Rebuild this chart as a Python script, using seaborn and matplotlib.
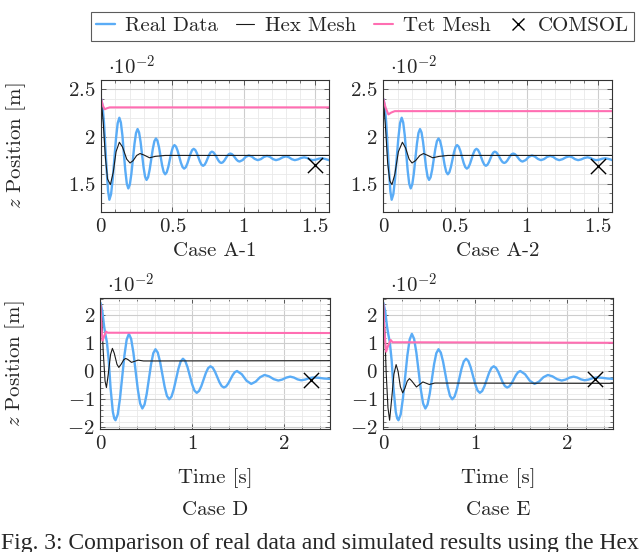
import matplotlib
matplotlib.use("Agg")
import matplotlib.pyplot as plt
from matplotlib.ticker import MultipleLocator, FuncFormatter
from matplotlib.lines import Line2D
import seaborn as sns

# z position values are in units of 1e-2 m

# Real data, cases A-1 / A-2 (same measurement)
real_a_t = [0.0, 0.01, 0.02, 0.03, 0.04, 0.049, 0.058,
            0.0697, 0.0813, 0.093, 0.1047, 0.1163, 0.128,
            0.1385, 0.1495, 0.1595, 0.170, 0.1805, 0.191,
            0.2018, 0.2127, 0.2235, 0.2343, 0.2452, 0.256,
            0.2665, 0.277, 0.2875, 0.298, 0.3085, 0.319,
            0.330, 0.341, 0.352, 0.363, 0.374, 0.385,
            0.3958, 0.4067, 0.4175, 0.4283, 0.4392, 0.45,
            0.4608, 0.4717, 0.4825, 0.4933, 0.5042, 0.515,
            0.5263, 0.5377, 0.549, 0.5603, 0.5717, 0.583,
            0.5942, 0.6053, 0.6165, 0.6277, 0.6388, 0.65,
            0.661, 0.672, 0.683, 0.694, 0.705, 0.716,
            0.7263, 0.7367, 0.747, 0.7573, 0.7677, 0.778,
            0.789, 0.80, 0.811, 0.822, 0.833, 0.844,
            0.8545, 0.865, 0.8755, 0.886, 0.8965, 0.907,
            0.9178, 0.9287, 0.9395, 0.9503, 0.9612, 0.972,
            0.994, 1.015, 1.037, 1.058, 1.079, 1.10, 1.122, 1.143, 1.165, 1.186,
            1.207, 1.228, 1.251, 1.275, 1.298, 1.319, 1.339, 1.36, 1.382, 1.404,
            1.426, 1.446, 1.465, 1.485, 1.507, 1.528, 1.55, 1.575, 1.6]
real_a_z = [2.40, 2.33, 2.15, 1.88, 1.62, 1.42, 1.33,
            1.388, 1.548, 1.765, 1.983, 2.142, 2.20,
            2.15, 2.0125, 1.825, 1.6375, 1.50, 1.45,
            1.492, 1.6075, 1.765, 1.9225, 2.038, 2.08,
            2.044, 1.945, 1.81, 1.675, 1.576, 1.54,
            1.569, 1.65, 1.76, 1.87, 1.951, 1.98,
            1.955, 1.885, 1.79, 1.695, 1.625, 1.60,
            1.621, 1.6775, 1.755, 1.8325, 1.889, 1.91,
            1.893, 1.8475, 1.785, 1.7225, 1.677, 1.66,
            1.674, 1.7125, 1.765, 1.8175, 1.856, 1.87,
            1.858, 1.825, 1.78, 1.735, 1.702, 1.69,
            1.70, 1.7275, 1.765, 1.8025, 1.83, 1.84,
            1.832, 1.81, 1.78, 1.75, 1.728, 1.72,
            1.727, 1.745, 1.77, 1.795, 1.813, 1.82,
            1.814, 1.799, 1.7775, 1.756, 1.741, 1.735,
            1.751, 1.784, 1.80, 1.788, 1.763, 1.75, 1.761, 1.784, 1.795, 1.784,
            1.761, 1.75, 1.76, 1.78, 1.79, 1.78, 1.76, 1.75, 1.758, 1.773,
            1.78, 1.773, 1.758, 1.75, 1.755, 1.765, 1.77, 1.762, 1.75]

# Real data, cases D / E
real_de_t = [0.0, 0.02, 0.04, 0.055, 0.07, 0.09, 0.11, 0.135, 0.15, 0.164,
             0.1883, 0.2127, 0.237, 0.2613, 0.2857, 0.31,
             0.3345, 0.359, 0.3835, 0.408, 0.4325, 0.457,
             0.4808, 0.5047, 0.5285, 0.5523, 0.5762, 0.60,
             0.625, 0.65, 0.675, 0.70, 0.725, 0.75,
             0.775, 0.80, 0.825, 0.85, 0.875, 0.90,
             0.925, 0.95, 0.975, 1.0, 1.025, 1.05,
             1.075, 1.10, 1.125, 1.15, 1.175, 1.20,
             1.2245, 1.249, 1.2735, 1.298, 1.3225, 1.347,
             1.3708, 1.3947, 1.4185, 1.4423, 1.4662, 1.49,
             1.542, 1.593, 1.645, 1.693, 1.742, 1.79, 1.84, 1.89, 1.94, 1.983,
             2.027, 2.07, 2.11, 2.15, 2.19, 2.233, 2.277, 2.32, 2.38, 2.44, 2.5]
real_de_z = [2.45, 2.15, 1.6, 1.3, 1.05, 0.4, -0.6, -1.45, -1.68, -1.75,
             -1.543, -0.978, -0.205, 0.5675, 1.133, 1.34,
             1.161, 0.6725, 0.005, -0.6625, -1.151, -1.33,
             -1.188, -0.80, -0.27, 0.26, 0.648, 0.79,
             0.67, 0.3425, -0.105, -0.5525, -0.88, -1.0,
             -0.903, -0.6375, -0.275, 0.0875, 0.353, 0.45,
             0.368, 0.145, -0.16, -0.465, -0.688, -0.77,
             -0.706, -0.5325, -0.295, -0.0575, 0.116, 0.18,
             0.129, -0.01, -0.20, -0.39, -0.529, -0.58,
             -0.54, -0.4325, -0.285, -0.1375, -0.03, 0.01,
             -0.105, -0.335, -0.45, -0.37, -0.21, -0.13, -0.18, -0.28, -0.33, -0.295,
             -0.225, -0.19, -0.2225, -0.2875, -0.32, -0.295, -0.245, -0.22, -0.232, -0.258, -0.27]

# Hex mesh simulations
hex_a1_t = [0, 0.015, 0.03, 0.045, 0.065, 0.085, 0.105, 0.128, 0.15, 0.18,
            0.203, 0.225, 0.25, 0.273, 0.30, 0.34, 0.38, 0.45, 1.6]
hex_a1_z = [2.40, 2.15, 1.78, 1.55, 1.49, 1.62, 1.84, 1.94, 1.89, 1.76,
            1.72, 1.745, 1.80, 1.82, 1.805, 1.775, 1.79, 1.80, 1.80]
hex_a2_t = [0, 0.015, 0.03, 0.045, 0.06, 0.08, 0.105, 0.133, 0.155, 0.18,
            0.20, 0.225, 0.255, 0.28, 0.31, 0.345, 0.39, 0.45, 1.6]
hex_a2_z = [2.40, 2.10, 1.72, 1.53, 1.49, 1.60, 1.84, 1.94, 1.88, 1.76,
            1.72, 1.745, 1.80, 1.82, 1.80, 1.775, 1.79, 1.80, 1.80]
hex_d_t = [0, 0.015, 0.03, 0.05, 0.065, 0.085, 0.11, 0.13, 0.15, 0.18,
           0.20, 0.225, 0.255, 0.276, 0.30, 0.338, 0.41, 0.47, 2.5]
hex_d_z = [2.40, 1.8, 0.7, -0.35, -0.58, -0.1, 0.6, 0.82, 0.65, 0.25,
           0.14, 0.25, 0.42, 0.46, 0.42, 0.32, 0.40, 0.37, 0.38]
hex_e_t = [0, 0.015, 0.03, 0.05, 0.068, 0.09, 0.115, 0.139, 0.16, 0.185,
           0.21, 0.235, 0.26, 0.284, 0.31, 0.36, 0.43, 0.5, 0.56, 2.5]
hex_e_z = [2.40, 1.5, 0.0, -1.3, -1.75, -1.0, -0.1, 0.24, 0.0, -0.55,
           -0.77, -0.6, -0.35, -0.26, -0.35, -0.56, -0.38, -0.47, -0.42, -0.43]

# Tet mesh simulations
tet_a1_t = [0, 0.012, 0.025, 0.04, 0.06, 1.6]
tet_a1_z = [2.40, 2.33, 2.29, 2.30, 2.31, 2.31]
tet_a2_t = [0, 0.015, 0.035, 0.055, 0.08, 1.6]
tet_a2_z = [2.40, 2.31, 2.235, 2.255, 2.27, 2.27]
tet_d_t = [0, 0.01, 0.022, 0.04, 0.06, 0.08, 2.5]
tet_d_z = [2.36, 1.6, 1.1, 1.25, 1.42, 1.38, 1.37]
tet_e_t = [0, 0.012, 0.03, 0.05, 0.08, 0.10, 2.5]
tet_e_z = [2.40, 1.4, 0.70, 0.90, 1.12, 1.04, 1.02]

# COMSOL end points (A-1, A-2, D, E)
comsol_t = [1.5, 1.5, 2.3, 2.3]
comsol_z = [1.70, 1.69, -0.30, -0.29]

case_names = ["Case A-1", "Case A-2", "Case D", "Case E"]

c_real = "#5aacf6"
c_hex = "#1a1a1a"
c_tet = "#ff6eb2"

sns.set_style("ticks")
plt.rcParams["font.family"] = ["cmr10", "DejaVu Serif"]
plt.rcParams["mathtext.fontset"] = "cm"
plt.rcParams["axes.formatter.use_mathtext"] = True
plt.rcParams["font.size"] = 15

fig = plt.figure(figsize=(6.4, 5.52), dpi=100)
axes = [
    fig.add_axes([0.158, 0.616, 0.356, 0.239]),
    fig.add_axes([0.599, 0.616, 0.358, 0.239]),
    fig.add_axes([0.157, 0.222, 0.358, 0.238]),
    fig.add_axes([0.599, 0.222, 0.359, 0.238]),
]

panels = [
    (real_a_t, real_a_z, hex_a1_t, hex_a1_z, tet_a1_t, tet_a1_z),
    (real_a_t, real_a_z, hex_a2_t, hex_a2_z, tet_a2_t, tet_a2_z),
    (real_de_t, real_de_z, hex_d_t, hex_d_z, tet_d_t, tet_d_z),
    (real_de_t, real_de_z, hex_e_t, hex_e_z, tet_e_t, tet_e_z),
]

fmt = FuncFormatter(lambda v, p: "$%s$" % ("%g" % v))

for i, ax in enumerate(axes):
    rt, rz, ht, hz, tt, tz = panels[i]
    sns.lineplot(x=rt, y=rz, ax=ax, color=c_real, lw=1.7, sort=False,
                 estimator=None, solid_joinstyle="round")
    sns.lineplot(x=ht, y=hz, ax=ax, color=c_hex, lw=0.8, sort=False,
                 estimator=None, solid_joinstyle="round")
    sns.lineplot(x=tt, y=tz, ax=ax, color=c_tet, lw=1.5, sort=False,
                 estimator=None, solid_joinstyle="round")
    sns.scatterplot(x=[comsol_t[i]], y=[comsol_z[i]], ax=ax, marker="x",
                    s=120, color="black", linewidth=1.0, zorder=5)

    if i < 2:
        ax.set_xlim(0, 1.6)
        ax.set_ylim(1.2, 2.6)
        ax.xaxis.set_major_locator(MultipleLocator(0.5))
        ax.xaxis.set_minor_locator(MultipleLocator(0.1))
        ax.yaxis.set_major_locator(MultipleLocator(0.5))
        ax.yaxis.set_minor_locator(MultipleLocator(0.1))
        ax.set_xlabel(case_names[i], labelpad=5)
    else:
        ax.set_xlim(0, 2.5)
        ax.set_ylim(-2.08, 2.62)
        ax.xaxis.set_major_locator(MultipleLocator(1))
        ax.xaxis.set_minor_locator(MultipleLocator(0.2))
        ax.yaxis.set_major_locator(MultipleLocator(1))
        ax.yaxis.set_minor_locator(MultipleLocator(0.2))
        ax.set_xlabel("Time [s]", labelpad=11)
        ax.text(0.5, -0.615, case_names[i], transform=ax.transAxes,
                ha="center", va="center")
    ax.xaxis.set_major_formatter(fmt)
    ax.yaxis.set_major_formatter(fmt)

    ax.grid(which="major", color="#cdcdcd", lw=0.8)
    ax.grid(which="minor", color="#e9e9e9", lw=0.6)
    ax.set_axisbelow(True)
    ax.tick_params(which="both", direction="in", top=True, right=True,
                   color="#444444", labelsize=15, pad=4)
    ax.tick_params(which="major", length=3.5, width=0.6)
    ax.tick_params(which="minor", length=2, width=0.5)
    for s in ax.spines.values():
        s.set_color("#333333")
        s.set_linewidth(0.8)

    ax.text(0.03, 1.01, r"$\cdot 10^{-2}$", transform=ax.transAxes,
            ha="left", va="bottom", fontsize=15)

    if i % 2 == 0:
        ax.set_ylabel(r"$z$ Position [m]")
        ax.yaxis.set_label_coords(-0.32, 0.5)
    else:
        ax.set_ylabel("")

handles = [
    Line2D([], [], color=c_real, lw=1.7),
    Line2D([], [], color=c_hex, lw=0.8),
    Line2D([], [], color=c_tet, lw=1.5),
    Line2D([], [], color="black", marker="x", ls="none", markersize=9, mew=1.0),
]
leg = fig.legend(handles, ["Real Data", "Hex Mesh", "Tet Mesh", "COMSOL"],
                 loc="upper center", bbox_to_anchor=(0.566, 0.998), ncol=4,
                 frameon=True, fancybox=False, handlelength=0.9,
                 handletextpad=0.5, columnspacing=0.85, borderpad=0.25,
                 fontsize=15)
leg.get_frame().set_edgecolor("#333333")
leg.get_frame().set_linewidth(0.8)

fig.text(0.5, 1 - 543 / 552, "Fig. 3: Comparison of real data and simulated results using the Hex",
         ha="center", va="center", fontsize=17, family=["Liberation Serif", "DejaVu Serif"])

fig.savefig("out.png", dpi=100)
